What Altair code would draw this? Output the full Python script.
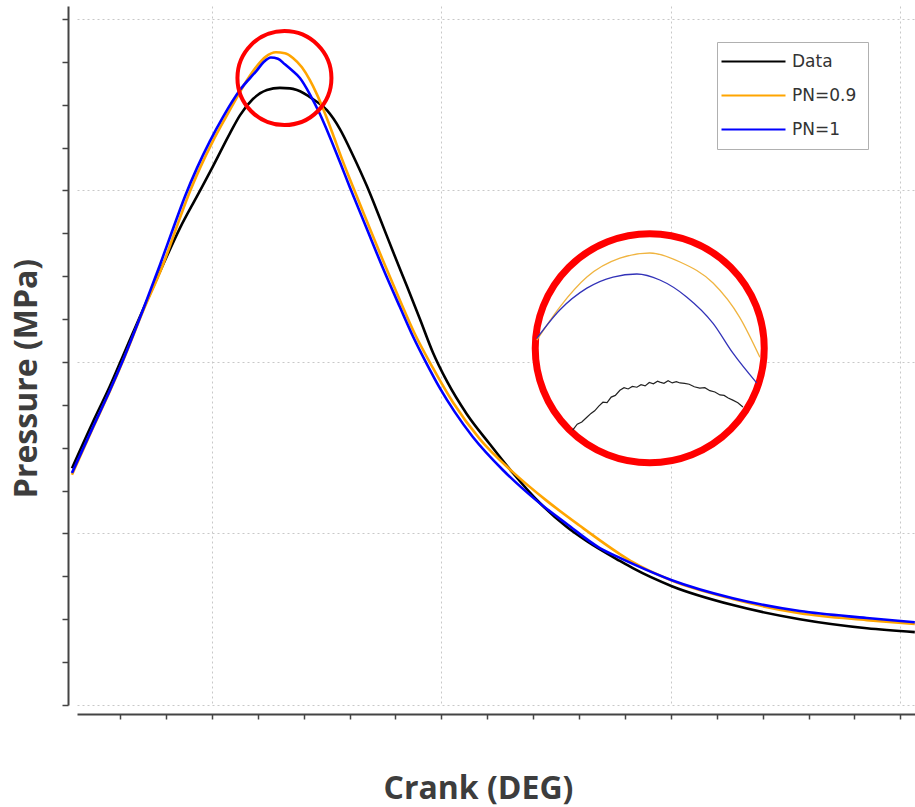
import altair as alt
import pandas as pd

# ---- main series: crank angle (deg) and pressure (MPa) ----
data_x = [-30.50, -25.93, -22.22, -19.39, -14.60, -10.68, -6.97, -3.27, 0.22, 3.92, 6.10, 8.93,
          11.98, 14.81, 16.99, 18.52, 22.00, 25.05, 27.89, 30.72, 33.77, 36.60, 39.43, 42.48,
          45.32, 48.15, 51.20, 55.56, 60.57, 65.58, 71.46, 77.34, 81.70, 88.89, 91.72, 100.22,
          113.51, 128.10, 142.70, 153.16]
data_y = [5.52, 6.60, 7.44, 8.14, 9.32, 10.26, 11.12, 11.86, 12.56, 13.33, 13.75, 14.13,
          14.34, 14.39, 14.38, 14.34, 14.13, 13.87, 13.43, 12.82, 12.10, 11.35, 10.58, 9.77,
          9.00, 8.22, 7.55, 6.78, 6.08, 5.41, 4.71, 4.15, 3.82, 3.36, 3.19, 2.77,
          2.33, 2.00, 1.79, 1.70]

pn09_x = [-30.50, -25.93, -22.22, -19.39, -15.03, -10.68, -7.84, -5.23, -2.61, 0.22, 3.05, 5.45,
          7.63, 9.80, 11.76, 13.94, 15.90, 17.65, 19.61, 21.35, 22.88, 24.62, 26.36, 28.10,
          30.07, 33.77, 37.25, 40.96, 44.23, 48.15, 52.51, 58.39, 65.58, 72.98, 80.17, 88.89,
          91.72, 100.22, 113.51, 128.10, 142.70, 153.16]
pn09_y = [5.37, 6.46, 7.32, 8.02, 9.18, 10.26, 11.10, 11.86, 12.52, 13.15, 13.71, 14.17,
          14.57, 14.90, 15.12, 15.22, 15.20, 15.09, 14.87, 14.57, 14.24, 13.80, 13.31, 12.80,
          12.26, 11.28, 10.37, 9.44, 8.65, 7.86, 7.06, 6.20, 5.43, 4.76, 4.18, 3.52,
          3.33, 2.90, 2.47, 2.14, 1.98, 1.89]

pn1_x = [-30.50, -25.93, -22.22, -19.39, -15.03, -11.33, -8.50, -5.88, -3.27, -0.44, 2.40, 6.10,
         9.80, 11.33, 12.85, 14.38, 15.90, 17.43, 19.17, 21.35, 23.53, 25.71, 27.89, 30.07,
         33.77, 37.25, 40.96, 43.79, 46.84, 49.67, 52.94, 56.86, 63.40, 70.81, 77.34, 84.53,
         88.89, 91.72, 100.22, 113.51, 128.10, 142.70, 153.16]
pn1_y = [5.41, 6.48, 7.34, 8.04, 9.21, 10.26, 11.10, 11.86, 12.52, 13.15, 13.71, 14.34,
         14.80, 15.00, 15.10, 15.07, 14.94, 14.80, 14.62, 14.24, 13.78, 13.24, 12.66, 12.07,
         11.10, 10.19, 9.28, 8.60, 7.95, 7.39, 6.83, 6.25, 5.48, 4.76, 4.22, 3.66,
         3.43, 3.29, 2.91, 2.49, 2.19, 2.03, 1.93]

series_names = ["Data", "PN=0.9", "PN=1"]
series_colors = ["#000000", "#FFA500", "#0000FF"]

# ---- magnified inset (values as they appear on the main scales) ----
inset_pn09_x = [70.8, 75.8, 81.7, 88.9, 95.4, 102.0, 109.2, 115.0, 119.4]
inset_pn09_y = [8.51, 9.28, 9.98, 10.42, 10.54, 10.33, 9.84, 9.04, 8.11]
inset_pn1_x = [70.8, 75.8, 81.7, 87.4, 92.6, 97.6, 103.5, 109.2, 113.5, 118.7]
inset_pn1_y = [8.55, 9.21, 9.72, 9.98, 10.05, 9.91, 9.51, 8.90, 8.21, 7.51]
inset_data_x = [78.6, 79.6, 80.6, 81.7, 82.6, 83.4, 84.3, 85.2, 86.1, 87.0,
                87.9, 88.9, 89.8, 90.7, 91.6, 92.6, 93.5, 94.4, 95.3, 96.2,
                97.1, 97.6, 98.5, 99.4, 100.3, 101.2, 102.0, 103.0, 104.0, 105.1,
                106.3, 107.4, 108.5, 109.6, 110.7, 111.6, 112.5, 113.5, 114.6, 115.7]
inset_data_y = [6.41, 6.55, 6.60, 6.71, 6.80, 6.86, 6.97, 7.06, 7.05, 7.18,
                7.22, 7.34, 7.40, 7.37, 7.43, 7.41, 7.47, 7.44, 7.52, 7.49,
                7.55, 7.53, 7.50, 7.56, 7.51, 7.54, 7.51, 7.50, 7.48, 7.42,
                7.39, 7.40, 7.33, 7.30, 7.23, 7.22, 7.16, 7.11, 7.05, 6.95]

# annotation circle centres
peak_circle = {"crank": [15.8], "pressure": [14.62]}
inset_circle = {"crank": [95.4], "pressure": [8.32]}

x_ticks = list(range(-20, 151, 10))
y_ticks = list(range(0, 17))

# ---- build tables ----
main_df = pd.concat([
    pd.DataFrame({"crank": data_x, "pressure": data_y, "series": "Data"}),
    pd.DataFrame({"crank": pn09_x, "pressure": pn09_y, "series": "PN=0.9"}),
    pd.DataFrame({"crank": pn1_x, "pressure": pn1_y, "series": "PN=1"}),
], ignore_index=True)

x_scale = alt.Scale(domain=[-29.4, 153.2], nice=False, zero=False)
y_scale = alt.Scale(domain=[0, 16.3], nice=False, zero=False)

x_axis = alt.Axis(
    title="Crank (DEG)", values=x_ticks, labels=False, offset=9, tickSize=5,
    gridOpacity={"condition": {"test": "datum.value % 50 === 0", "value": 1}, "value": 0},
    titleX=401, titleY=84, titleBaseline="alphabetic", titleAnchor="start", titleAlign="center",
)
y_axis = alt.Axis(
    title="Pressure (MPa)", values=y_ticks, labels=False, offset=9, tickSize=6,
    gridOpacity={"condition": {"test": "datum.value % 4 === 0", "value": 1}, "value": 0},
    titleAngle=270, titleX=-32, titleY=372, titleAlign="center", titleBaseline="alphabetic",
)

x_enc = alt.X("crank:Q", scale=x_scale, axis=x_axis)
y_enc = alt.Y("pressure:Q", scale=y_scale, axis=y_axis)

lines = alt.Chart(main_df).mark_line(strokeWidth=2.6, interpolate="monotone").encode(
    x=x_enc, y=y_enc,
    color=alt.Color(
        "series:N",
        scale=alt.Scale(domain=series_names, range=series_colors),
        sort=series_names,
        legend=alt.Legend(
            title=None, orient="none", legendX=640, legendY=36,
            symbolType="M-3.75,0H12.25", symbolSize=64, symbolStrokeWidth=2,
            labelFont="DejaVu Sans", labelFontSize=17, labelColor="#333333", labelOffset=47,
            fillColor="white", strokeColor="#b0b0b0", padding=11, rowPadding=16,
        ),
    ),
)

small_circle = alt.Chart(pd.DataFrame(peak_circle)).mark_point(
    shape="circle", size=8836, filled=False, stroke="#FF0000", strokeWidth=4, opacity=1
).encode(x=x_enc, y=y_enc)

big_circle = alt.Chart(pd.DataFrame(inset_circle)).mark_point(
    shape="circle", size=52441, filled=True, fill="white", fillOpacity=1,
    stroke="#FF0000", strokeWidth=7, strokeOpacity=1, opacity=1
).encode(x=x_enc, y=y_enc)

inset_o = alt.Chart(pd.DataFrame({"crank": inset_pn09_x, "pressure": inset_pn09_y})).mark_line(
    strokeWidth=1.3, color="#F0B440", interpolate="monotone").encode(x=x_enc, y=y_enc)
inset_b = alt.Chart(pd.DataFrame({"crank": inset_pn1_x, "pressure": inset_pn1_y})).mark_line(
    strokeWidth=1.3, color="#3232B8", interpolate="monotone").encode(x=x_enc, y=y_enc)
inset_k = alt.Chart(pd.DataFrame({"crank": inset_data_x, "pressure": inset_data_y})).mark_line(
    strokeWidth=1.2, color="#222222").encode(x=x_enc, y=y_enc)

chart = alt.layer(lines, small_circle, big_circle, inset_o, inset_b, inset_k).properties(
    width=838, height=699,
    autosize=alt.AutoSizeParams(type="none"),
    padding={"left": 77, "top": 6, "right": 0, "bottom": 102},
    background="white",
).configure_view(stroke="transparent").configure_axis(
    domainColor="#444444", domainWidth=2, tickColor="#444444", tickWidth=1.5,
    gridColor="#c8c8c8", gridDash=[2, 3], gridWidth=1,
    titleFont="Open Sans", titleFontWeight="bold", titleFontSize=32, titleColor="#3d3d3d",
)

chart.save("out.html", embed_options={"renderer": "svg", "actions": False})
